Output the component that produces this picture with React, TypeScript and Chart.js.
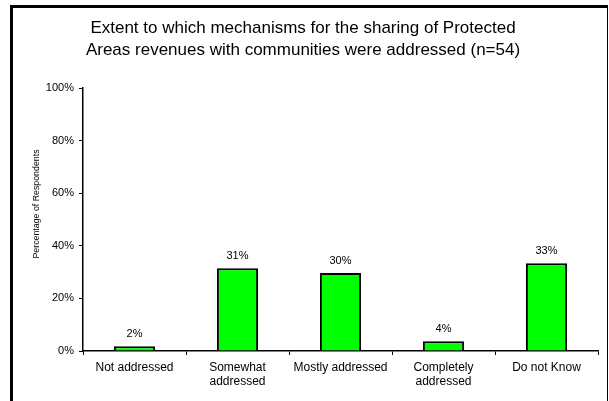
import React, { useEffect, useRef } from "react";
import { Chart, registerables } from "chart.js";

Chart.register(...registerables);

const titleLines = [
  "Extent to which mechanisms for the sharing of Protected",
  "Areas revenues with communities were addressed (n=54)",
];
const categories: string[][] = [
  ["Not addressed"],
  ["Somewhat", "addressed"],
  ["Mostly addressed"],
  ["Completely", "addressed"],
  ["Do not Know"],
];
const values = [1.85, 31.48, 29.63, 3.7, 33.33];
const valueLabels = ["2%", "31%", "30%", "4%", "33%"];
const yTicks = [0, 20, 40, 60, 80, 100];
const yAxisTitle = "Percentage of Respondents";

const FONT = "'Liberation Sans', Arial, sans-serif";

const decorPlugin = {
  id: "decor",
  beforeDraw(chart: any) {
    const ctx = chart.ctx;
    ctx.save();
    ctx.fillStyle = "#ffffff";
    ctx.fillRect(0, 0, chart.width, chart.height);
    ctx.fillStyle = "#000000";
    // frame (left, top, right)
    ctx.fillRect(10, 5, 3, chart.height - 5);
    ctx.fillRect(10, 5, chart.width - 12, 3);
    ctx.fillRect(chart.width - 2, 5, 1, chart.height - 5);
    ctx.restore();
  },
  afterDraw(chart: any) {
    const ctx = chart.ctx;
    ctx.save();
    ctx.fillStyle = "#000000";
    ctx.textAlign = "center";
    ctx.textBaseline = "middle";
    ctx.font = `17px ${FONT}`;
    ctx.fillText(titleLines[0], 303, 28);
    ctx.fillText(titleLines[1], 303, 50);
    // axis title
    ctx.font = `8.8px ${FONT}`;
    ctx.translate(37, 204);
    ctx.rotate(-Math.PI / 2);
    ctx.fillText(yAxisTitle, 0, 0);
    ctx.restore();
    // value labels
    ctx.save();
    ctx.fillStyle = "#000000";
    ctx.textAlign = "center";
    ctx.textBaseline = "middle";
    ctx.font = `11px ${FONT}`;
    const meta = chart.getDatasetMeta(0);
    meta.data.forEach((bar: any, i: number) => {
      ctx.fillText(valueLabels[i], bar.x, bar.y - 12);
    });
    ctx.restore();
  },
};

export default function App() {
  const ref = useRef<HTMLCanvasElement>(null);
  useEffect(() => {
    document.body.style.margin = "0";
    const chart = new Chart(ref.current!, {
      type: "bar",
      data: {
        labels: categories,
        datasets: [
          {
            data: values,
            backgroundColor: "#00ff00",
            borderColor: "#000000",
            borderWidth: 2,
            categoryPercentage: 1,
            barPercentage: 0.4,
          },
        ],
      },
      plugins: [decorPlugin],
      options: {
        responsive: false,
        animation: false,
        devicePixelRatio: 1,
        layout: { padding: { left: 0, top: 88, right: 11, bottom: 0 } },
        plugins: {
          legend: { display: false },
          tooltip: { enabled: false },
          title: { display: false },
        },
        scales: {
          x: {
            grid: {
              offset: true,
              drawOnChartArea: false,
              drawTicks: true,
              tickLength: 4,
              color: "#000000",
            },
            border: { color: "#000000", width: 1.5 },
            ticks: {
              color: "#000000",
              font: { family: FONT, size: 12 },
              padding: 5,
              maxRotation: 0,
              autoSkip: false,
            },
            afterFit(scale: any) {
              scale.height = 50;
            },
          },
          y: {
            min: 0,
            max: 100,
            afterBuildTicks(scale: any) {
              scale.ticks = yTicks.map((v) => ({ value: v }));
            },
            grid: {
              drawOnChartArea: false,
              drawTicks: true,
              tickLength: 4,
              color: "#000000",
            },
            border: { color: "#000000", width: 1.5 },
            ticks: {
              color: "#000000",
              font: { family: FONT, size: 11 },
              padding: 5,
              callback: (v: any) => `${v}%`,
            },
            afterFit(scale: any) {
              scale.width = 83;
            },
          },
        },
      } as any,
    });
    return () => chart.destroy();
  }, []);
  return (
    <div style={{ position: "absolute", left: 0, top: 0, width: 609, height: 401 }}>
      <canvas ref={ref} width={609} height={401} style={{ width: 609, height: 401 }} />
    </div>
  );
}
